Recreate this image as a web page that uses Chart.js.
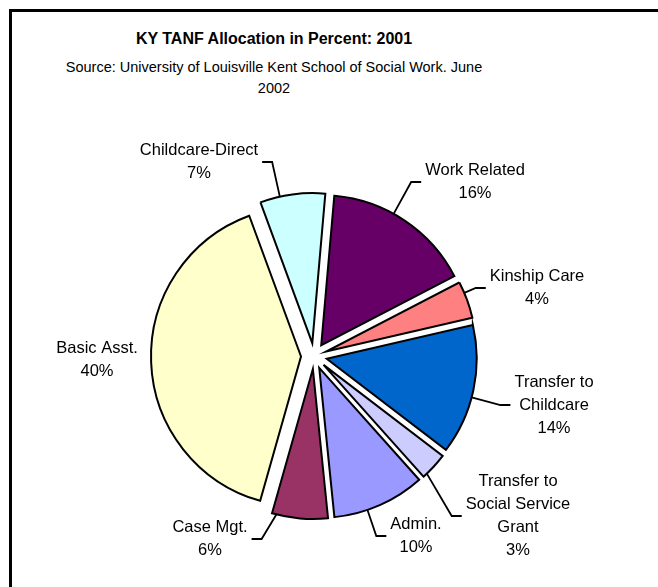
<!DOCTYPE html>
<html>
<head>
<meta charset="utf-8">
<title>KY TANF Allocation in Percent: 2001</title>
<script src="https://cdn.jsdelivr.net/npm/chart.js@4.4.1/dist/chart.umd.min.js"></script>
<style>
  html, body { margin: 0; padding: 0; background: #fff; width: 658px; height: 587px; overflow: hidden; }
  #frame {
    position: absolute; left: 9px; top: 9px; width: 720px; height: 640px;
    border: 3px solid #000; box-sizing: border-box;
  }
  .head {
    position: absolute; left: -26px; width: 600px; text-align: center; color: #000;
    font-family: 'Liberation Sans', Arial, sans-serif; white-space: nowrap; line-height: 1.15;
  }
  #title { top: 30px; font-size: 16px; font-weight: bold; }
  #sub1  { top: 59px; font-size: 14.5px; }
  #sub2  { top: 80px; font-size: 14.5px; }
  #pie { position: absolute; left: 0; top: 0; }
</style>
</head>
<body>
<div id="frame"></div>
<div class="head" id="title">KY TANF Allocation in Percent: 2001</div>
<div class="head" id="sub1">Source: University of Louisville Kent School of Social Work. June</div>
<div class="head" id="sub2">2002</div>
<canvas id="pie" width="658" height="587"></canvas>

<script>
// ─── data ─────────────────────────────────────────────
const CATEGORIES = [
  'Work Related', 'Kinship Care', 'Transfer to Childcare',
  'Transfer to Social Service Grant', 'Admin.', 'Case Mgt.',
  'Basic Asst.', 'Childcare-Direct'
]
const SHARES = [16, 4, 14, 3, 10, 6, 40, 7]

// ─── look ─────────────────────────────────────────────
const FILLS = ['#660066', '#FF8080', '#0066CC', '#CCCCFF', '#9999FF', '#993366', '#FFFFCC', '#CCFFFF']
const EXPLODE = 13          // px each slice is pulled out
const FONT = "16.5px 'Liberation Sans', Arial, sans-serif"
const LINE_H = 23
const WRAP_W = 116

// label block centres, relative to the pie centre; leader=false → no line
const LABEL_POS = [
  { dx: 161,  dy: -174 },
  { dx: 223,  dy: -68 },
  { dx: 240,  dy: 49 },
  { dx: 204,  dy: 160 },
  { dx: 102,  dy: 180 },
  { dx: -104, dy: 183 },
  { dx: -217, dy: 4, leader: false },
  { dx: -115, dy: -194 },
]

// pull every arc out along its middle angle
const explodePlugin = {
  id: 'explode',
  afterDatasetsUpdate(chart) {
    chart.getDatasetMeta(0).data.forEach(arc => {
      const mid = (arc.startAngle + arc.endAngle) / 2
      arc.x += Math.cos(mid) * EXPLODE
      arc.y += Math.sin(mid) * EXPLODE
    })
  }
}

function wrapText(ctx, text) {
  const words = text.split(' ')
  const lines = []
  let cur = ''
  words.forEach(w => {
    const t = cur ? cur + ' ' + w : w
    if (cur && ctx.measureText(t).width > WRAP_W) { lines.push(cur); cur = w }
    else cur = t
  })
  lines.push(cur)
  return lines
}

// category + percent labels with Excel-style leader lines
const labelPlugin = {
  id: 'sliceLabels',
  afterDatasetsDraw(chart) {
    const ctx = chart.ctx
    const area = chart.chartArea
    const cx = (area.left + area.right) / 2
    const cy = (area.top + area.bottom) / 2
    const arcs = chart.getDatasetMeta(0).data

    ctx.save()
    ctx.font = FONT
    ctx.fillStyle = '#000'
    ctx.strokeStyle = '#000'
    ctx.lineWidth = 1.8
    ctx.textAlign = 'center'
    ctx.textBaseline = 'middle'

    arcs.forEach((arc, i) => {
      const pos = LABEL_POS[i]
      const lines = wrapText(ctx, chart.data.labels[i])
      lines.push(chart.data.datasets[0].data[i] + '%')
      const bx = cx + pos.dx
      const by = cy + pos.dy
      const top = by - (lines.length - 1) * LINE_H / 2
      lines.forEach((l, k) => ctx.fillText(l, bx, top + k * LINE_H))

      if (pos.leader === false) return
      const halfW = Math.max(...lines.map(l => ctx.measureText(l).width)) / 2
      const right = bx > arc.x
      const stubEnd = right ? bx - halfW - 4 : bx + halfW + 4
      const elbow = right ? stubEnd - 10 : stubEnd + 10

      // point on the slice rim facing the elbow, kept inside the slice
      let a = Math.atan2(by - arc.y, elbow - arc.x)
      while (a < arc.startAngle) a += Math.PI * 2
      const m = 0.03
      if (a > arc.endAngle - m) {
        const toEnd = a - arc.endAngle
        const toStart = arc.startAngle + Math.PI * 2 - a
        a = toEnd < toStart ? arc.endAngle - m : arc.startAngle + m
      }
      if (a < arc.startAngle + m) a = arc.startAngle + m
      const r = arc.outerRadius
      ctx.beginPath()
      ctx.moveTo(arc.x + Math.cos(a) * r, arc.y + Math.sin(a) * r)
      ctx.lineTo(elbow, by)
      ctx.lineTo(stubEnd, by)
      ctx.stroke()
    })
    ctx.restore()
  }
}

new Chart(document.getElementById('pie'), {
  type: 'pie',
  data: {
    labels: CATEGORIES,
    datasets: [{
      data: SHARES,
      backgroundColor: FILLS,
      borderColor: '#000',
      borderWidth: 2,
      borderJoinStyle: 'miter'
    }]
  },
  options: {
    responsive: false,
    animation: false,
    rotation: 5,
    layout: { padding: { left: 163, right: 193, top: 205, bottom: 80 } },
    plugins: {
      legend: { display: false },
      tooltip: { enabled: false },
      title: { display: false }
    }
  },
  plugins: [explodePlugin, labelPlugin]
})
</script>
</body>
</html>
